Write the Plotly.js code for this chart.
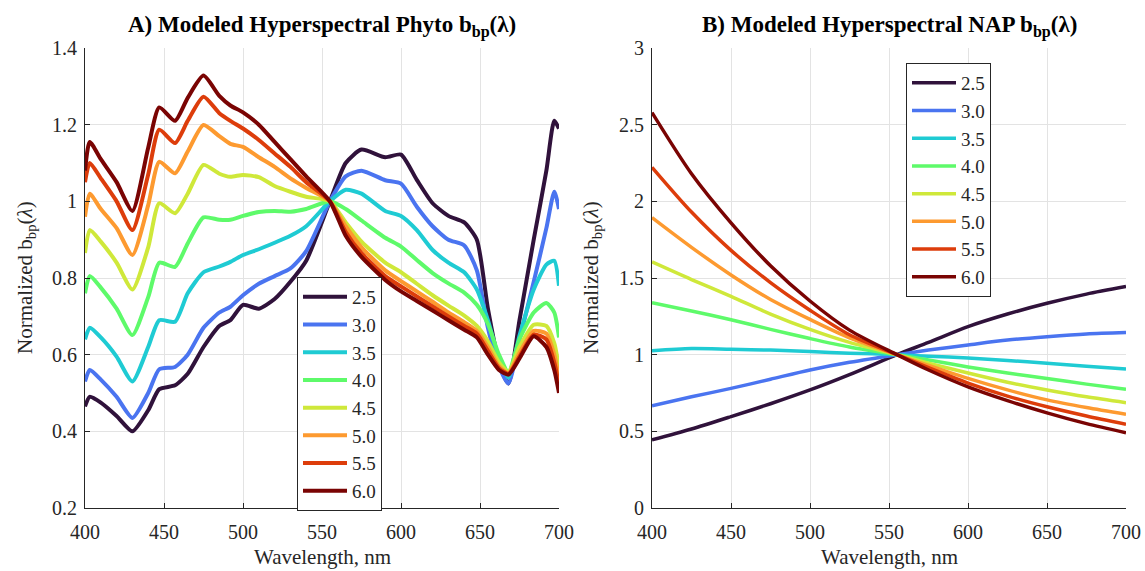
<!DOCTYPE html>
<html>
<head>
<meta charset="utf-8">
<script src="https://cdn.plot.ly/plotly-3.0.1.min.js"></script>
<style>html,body{margin:0;padding:0;background:#fff;}#chart{width:1145px;height:571px;}</style>
</head>
<body>
<div id="chart"></div>
<script>
// ---------- data ----------
const seriesNames = ['2.5','3.0','3.5','4.0','4.5','5.0','5.5','6.0'];
const seriesColors = ['#30123b','#4a74f0','#1fcbd3','#5efa6a','#cfe83a','#fd9a30','#dd3d0b','#7a0403'];

// Panel A: modeled hyperspectral phyto bbp (normalized)
const wlPhyto = [400,403,410,420,430,440,447,457,465,475,485,492,500,510,520,530,540,555,565,575,590,600,610,620,630,640,648,655,662,668,675,684,692,697,700];
const phyto25 = [0.465,0.49,0.475,0.44,0.40,0.455,0.51,0.52,0.55,0.62,0.675,0.69,0.73,0.72,0.745,0.79,0.845,1.0,1.10,1.135,1.115,1.122,1.056,0.995,0.962,0.945,0.90,0.72,0.58,0.525,0.69,0.90,1.08,1.21,1.19];
const phyto30 = [0.53,0.56,0.535,0.49,0.435,0.50,0.562,0.568,0.60,0.67,0.71,0.725,0.755,0.785,0.805,0.825,0.87,1.0,1.065,1.08,1.055,1.046,0.986,0.935,0.90,0.885,0.82,0.67,0.57,0.525,0.64,0.79,0.93,1.025,0.98];
const phyto35 = [0.64,0.67,0.645,0.595,0.53,0.62,0.69,0.686,0.76,0.815,0.83,0.842,0.86,0.875,0.892,0.91,0.935,1.0,1.03,1.02,0.975,0.962,0.925,0.873,0.84,0.815,0.77,0.69,0.59,0.54,0.65,0.77,0.835,0.845,0.78];
const phyto40 = [0.76,0.805,0.775,0.72,0.651,0.75,0.84,0.829,0.89,0.958,0.952,0.952,0.962,0.972,0.975,0.973,0.98,1.0,0.98,0.95,0.905,0.882,0.847,0.813,0.786,0.762,0.73,0.68,0.60,0.555,0.64,0.71,0.735,0.71,0.645];
const phyto45 = [0.865,0.925,0.895,0.84,0.77,0.88,0.995,0.969,1.02,1.095,1.072,1.064,1.069,1.063,1.04,1.025,1.012,1.0,0.945,0.895,0.84,0.815,0.785,0.755,0.728,0.702,0.675,0.635,0.58,0.555,0.62,0.678,0.675,0.63,0.565];
const phyto50 = [0.96,1.02,0.98,0.93,0.86,0.99,1.103,1.073,1.13,1.199,1.17,1.15,1.142,1.115,1.09,1.06,1.035,1.0,0.935,0.88,0.82,0.792,0.765,0.738,0.71,0.685,0.662,0.62,0.57,0.552,0.605,0.662,0.655,0.60,0.54];
const phyto55 = [1.05,1.10,1.06,1.0,0.925,1.07,1.187,1.152,1.21,1.273,1.23,1.21,1.19,1.16,1.125,1.09,1.05,1.0,0.92,0.865,0.805,0.778,0.752,0.726,0.70,0.675,0.655,0.61,0.565,0.55,0.595,0.652,0.64,0.58,0.52];
const phyto60 = [1.08,1.155,1.11,1.05,0.975,1.14,1.245,1.21,1.27,1.328,1.275,1.25,1.232,1.20,1.155,1.11,1.065,1.0,0.91,0.855,0.795,0.765,0.74,0.715,0.69,0.665,0.645,0.60,0.56,0.548,0.59,0.648,0.62,0.56,0.50];

// Panel B: modeled hyperspectral NAP bbp (normalized)
const wlNap = [400,425,450,475,500,525,555,575,600,625,650,675,700];
const nap25 = [0.444,0.515,0.596,0.68,0.77,0.87,1.0,1.08,1.183,1.265,1.335,1.395,1.444];
const nap30 = [0.667,0.725,0.78,0.84,0.90,0.95,1.0,1.03,1.063,1.095,1.117,1.135,1.144];
const nap35 = [1.026,1.04,1.035,1.03,1.02,1.01,1.0,0.99,0.978,0.962,0.944,0.925,0.907];
const nap40 = [1.339,1.285,1.228,1.165,1.105,1.05,1.0,0.965,0.92,0.88,0.845,0.808,0.774];
const nap45 = [1.605,1.49,1.38,1.265,1.165,1.08,1.0,0.945,0.88,0.82,0.77,0.725,0.687];
const nap50 = [1.894,1.70,1.52,1.36,1.23,1.11,1.0,0.93,0.845,0.77,0.705,0.655,0.611];
const nap55 = [2.222,1.93,1.68,1.47,1.29,1.13,1.0,0.915,0.815,0.73,0.66,0.60,0.546];
const nap60 = [2.579,2.18,1.86,1.58,1.35,1.16,1.0,0.90,0.79,0.70,0.62,0.55,0.491];

const phytoSeries = [phyto25,phyto30,phyto35,phyto40,phyto45,phyto50,phyto55,phyto60];
const napSeries = [nap25,nap30,nap35,nap40,nap45,nap50,nap55,nap60];

// ---------- figure ----------
const FONT = '"Liberation Serif", "Times New Roman", serif';
const traces = [];
phytoSeries.forEach((ys, i) => {
  traces.push({x: wlPhyto, y: ys, name: seriesNames[i], type: 'scatter', mode: 'lines',
    line: {color: seriesColors[i], width: 4, shape: 'spline', smoothing: 0.6},
    xaxis: 'x', yaxis: 'y', legend: 'legend'});
});
napSeries.forEach((ys, i) => {
  traces.push({x: wlNap, y: ys, name: seriesNames[i], type: 'scatter', mode: 'lines',
    line: {color: seriesColors[i], width: 3.5, shape: 'spline', smoothing: 0.8},
    xaxis: 'x2', yaxis: 'y2', legend: 'legend2'});
});

const W = 1145, H = 571;
const axisCommon = {
  showline: true, linecolor: '#262626', linewidth: 1,
  ticks: 'inside', ticklen: 5, tickcolor: '#262626', tickwidth: 1,
  showgrid: true, gridcolor: '#e3e3e3', gridwidth: 1,
  zeroline: false, automargin: false,
  tickfont: {family: FONT, size: 20, color: '#262626'}
};
const yDom = [1 - 508/H, 1 - 48/H];
const legendCommon = {xanchor: 'left', yanchor: 'top', bgcolor: '#ffffff',
  bordercolor: '#262626', borderwidth: 1, font: {family: FONT, size: 19, color: '#262626'},
  tracegroupgap: 0, itemwidth: 44};
const layout = {
  width: W, height: H,
  margin: {l: 0, r: 0, t: 0, b: 0},
  paper_bgcolor: '#ffffff', plot_bgcolor: '#ffffff',
  font: {family: FONT, color: '#262626'},
  showlegend: true,
  xaxis: Object.assign({}, axisCommon, {domain: [85/W, 559/W], range: [400, 700], tick0: 400, dtick: 50, anchor: 'y', ticklabelstandoff: 6}),
  yaxis: Object.assign({}, axisCommon, {domain: yDom, range: [0.2, 1.4], tick0: 0.2, dtick: 0.2, anchor: 'x', ticklabelstandoff: 3}),
  xaxis2: Object.assign({}, axisCommon, {domain: [652/W, 1126/W], range: [400, 700], tick0: 400, dtick: 50, anchor: 'y2', ticklabelstandoff: 6}),
  yaxis2: Object.assign({}, axisCommon, {domain: yDom, range: [0, 3], tick0: 0, dtick: 0.5, anchor: 'x2', ticklabelstandoff: 3}),
  legend: Object.assign({}, legendCommon, {x: 297/W, y: 1 - 277/H}),
  legend2: Object.assign({}, legendCommon, {x: 906/W, y: 1 - 63/H}),
  annotations: [
    {text: '<b>A) Modeled Hyperspectral Phyto b<sub>bp</sub>(λ)</b>', xref: 'paper', yref: 'paper',
     x: 322/W, y: 1 - 27/H, xanchor: 'center', yanchor: 'middle', showarrow: false,
     font: {family: FONT, size: 23, color: '#000000'}},
    {text: '<b>B) Modeled Hyperspectral NAP b<sub>bp</sub>(λ)</b>', xref: 'paper', yref: 'paper',
     x: 889/W, y: 1 - 27/H, xanchor: 'center', yanchor: 'middle', showarrow: false,
     font: {family: FONT, size: 23, color: '#000000'}},
    {text: 'Wavelength, nm', xref: 'paper', yref: 'paper', x: 322/W, y: 1 - 557/H,
     xanchor: 'center', yanchor: 'middle', showarrow: false, font: {family: FONT, size: 21, color: '#262626'}},
    {text: 'Wavelength, nm', xref: 'paper', yref: 'paper', x: 889/W, y: 1 - 557/H,
     xanchor: 'center', yanchor: 'middle', showarrow: false, font: {family: FONT, size: 21, color: '#262626'}},
    {text: 'Normalized b<sub>bp</sub>(<i>λ</i>)', xref: 'paper', yref: 'paper', x: 26/W, y: 1 - 278/H,
     xanchor: 'center', yanchor: 'middle', textangle: -90, showarrow: false, font: {family: FONT, size: 21, color: '#262626'}},
    {text: 'Normalized b<sub>bp</sub>(<i>λ</i>)', xref: 'paper', yref: 'paper', x: 592/W, y: 1 - 278/H,
     xanchor: 'center', yanchor: 'middle', textangle: -90, showarrow: false, font: {family: FONT, size: 21, color: '#262626'}}
  ]
};

Plotly.newPlot('chart', traces, layout, {displayModeBar: false, staticPlot: true});
</script>
</body>
</html>
